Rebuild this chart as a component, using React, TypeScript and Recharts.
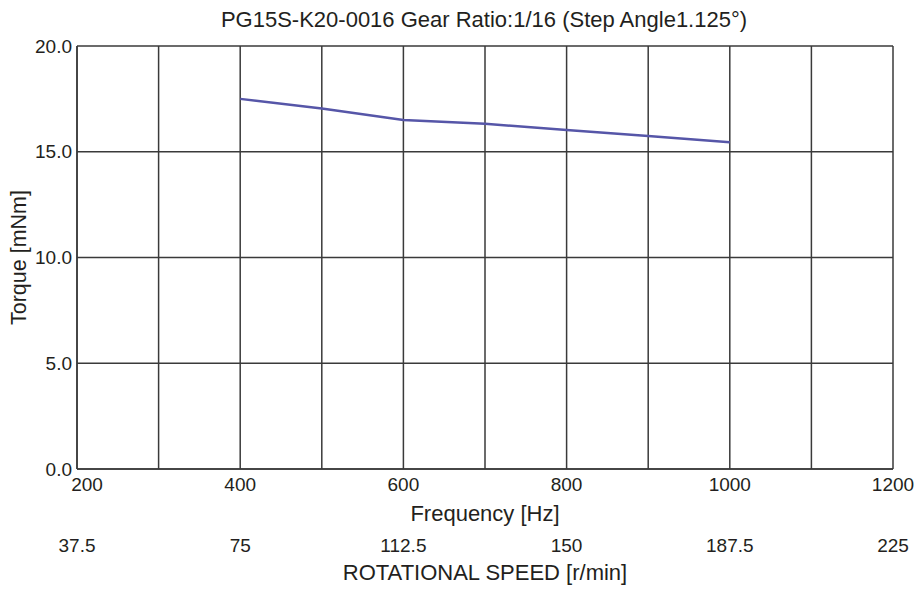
import React from 'react';
import { LineChart, Line, XAxis, YAxis, CartesianGrid, Label } from 'recharts';

const TITLE = 'PG15S-K20-0016 Gear Ratio:1/16 (Step Angle1.125°)';

// frequency [Hz] vs pull-out torque [mNm]
const freqHz = [400, 500, 600, 700, 800, 900, 1000];
const torqueMNm = [17.5, 17.05, 16.5, 16.32, 16.03, 15.75, 15.45];

const freqTicks = [200, 300, 400, 500, 600, 700, 800, 900, 1000, 1100, 1200];
const freqLabelTicks = [200, 400, 600, 800, 1000, 1200];
const rpmLabels = ['37.5', '75', '112.5', '150', '187.5', '225'];
const torqueTicks = [0, 5, 10, 15, 20];

const data = freqHz.map((f, i) => ({ freq: f, torque: torqueMNm[i] }));

const FONT = '"Liberation Sans", Arial, sans-serif';
const TEXT = '#231f20';
const GRID = '#3a3a3a';

const FreqTick = (props: any) => {
  const { x, y, payload } = props;
  const v = payload.value;
  if (!freqLabelTicks.includes(v)) return null;
  // first label sits a little right of the axis so it clears "0.0"
  const dx = v === 200 ? 10 : 0;
  return (
    <text x={x + dx} y={y} dy="0.71em" textAnchor="middle" fontSize={19} fontFamily={FONT} fill={TEXT}>
      {v}
    </text>
  );
};

const rpmFormat = (v: number) => {
  const i = freqLabelTicks.indexOf(v);
  return i >= 0 ? rpmLabels[i] : '';
};

export default function App() {
  return (
    <div style={{ position: 'absolute', left: 0, top: 0, width: 917, height: 590, background: '#fff' }}>
      <svg width={917} height={40} style={{ position: 'absolute', left: 0, top: 0 }}>
        <text x={484} y={27} textAnchor="middle" fontSize={22} fontFamily={FONT} fill={TEXT}>
          {TITLE}
        </text>
      </svg>
      <LineChart width={917} height={590} data={data} margin={{ top: 46, right: 24, left: 0, bottom: 0 }}>
        <CartesianGrid stroke={GRID} strokeWidth={1.5} vertical horizontal />
        <XAxis
          dataKey="freq"
          type="number"
          domain={[200, 1200]}
          ticks={freqTicks}
          interval={0}
          height={60}
          tickSize={0}
          tickMargin={9}
          tick={<FreqTick />}
          axisLine={{ stroke: GRID, strokeWidth: 1.5 }}
        >
          <Label
            value="Frequency [Hz]"
            position="insideBottom"
            offset={8}
            style={{ fontSize: 22, fontFamily: FONT, fill: TEXT }}
          />
        </XAxis>
        <XAxis
          xAxisId="rpm"
          dataKey="freq"
          type="number"
          domain={[200, 1200]}
          ticks={freqLabelTicks}
          interval={0}
          height={61}
          tickSize={0}
          tickMargin={10}
          axisLine={false}
          tickFormatter={rpmFormat}
          tick={{ fontSize: 19, fontFamily: FONT, fill: TEXT }}
        >
          <Label
            value="ROTATIONAL SPEED [r/min]"
            position="insideBottom"
            offset={10}
            style={{ fontSize: 22, fontFamily: FONT, fill: TEXT }}
          />
        </XAxis>
        <YAxis
          type="number"
          domain={[0, 20]}
          ticks={torqueTicks}
          interval={0}
          width={77}
          tickSize={0}
          tickMargin={5}
          tickFormatter={(v: number) => v.toFixed(1)}
          tick={{ fontSize: 19, fontFamily: FONT, fill: TEXT }}
          axisLine={{ stroke: GRID, strokeWidth: 1.5 }}
        >
          <Label
            content={(p: any) => {
              const vb = p.viewBox || { x: 0, y: 46, width: 77, height: 423 };
              const cx = 19;
              const cy = vb.y + vb.height / 2;
              return (
                <text
                  x={cx}
                  y={cy}
                  transform={`rotate(-90 ${cx} ${cy})`}
                  textAnchor="middle"
                  dominantBaseline="central"
                  fontSize={21.5}
                  fontFamily={FONT}
                  fill={TEXT}
                >
                  Torque [mNm]
                </text>
              );
            }}
          />
        </YAxis>
        <Line
          type="linear"
          dataKey="torque"
          stroke="#5656a8"
          strokeWidth={2.5}
          dot={false}
          activeDot={false}
          isAnimationActive={false}
        />
      </LineChart>
    </div>
  );
}
